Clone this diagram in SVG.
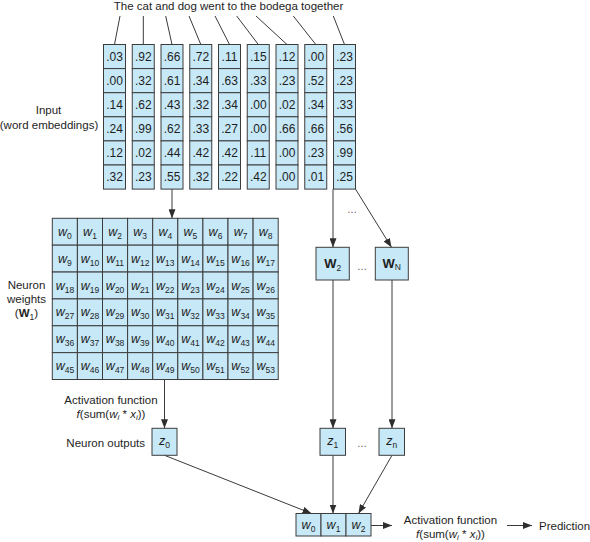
<svg xmlns="http://www.w3.org/2000/svg" width="590" height="542" viewBox="0 0 590 542">
<defs>
<style>
text{font-family:"Liberation Sans",Arial,sans-serif;fill:#1e1e1e;}
.lbl{font-size:11.5px;}
.mid{text-anchor:middle;}
.c{fill:#c6e8f7;stroke:#3c3c3c;stroke-width:1;}
.n{font-size:12px;text-anchor:middle;}
.w{font-size:12.5px;font-style:italic;}
.s{font-size:8.5px;}
.si{font-size:8px;font-style:italic;}
.it{font-style:italic;}
.b{font-weight:bold;}
.dots{font-size:10px;fill:#555;text-anchor:middle;}
.ln{stroke:#3a3a3a;stroke-width:1;fill:none;}
.ar{stroke:#3a3a3a;stroke-width:1;fill:none;marker-end:url(#ah);}
</style>
<marker id="ah" markerUnits="userSpaceOnUse" markerWidth="9" markerHeight="7" refX="9" refY="3.5" orient="auto">
<path d="M0,0 L9,3.5 L0,7 z" fill="#2e2e2e"/>
</marker>
</defs>
<rect width="590" height="542" fill="#fff"/>

<g id="sentence">
<text class="lbl mid" x="228.5" y="9.5">The cat and dog went to the bodega together</text>
</g>

<g id="labels">
<text class="lbl mid" x="48.5" y="113.5">Input</text>
<text class="lbl mid" x="49" y="128.5">(word embeddings)</text>
<text class="lbl mid" x="26.5" y="289">Neuron</text>
<text class="lbl mid" x="26.5" y="303">weights</text>
<text class="lbl mid" x="26.5" y="317">(<tspan class="b">W</tspan><tspan class="s" dy="2.5">1</tspan><tspan dy="-2.5">)</tspan></text>
<text class="lbl mid" x="111" y="404">Activation function</text>
<text class="lbl mid" x="111" y="417.5"><tspan class="it">f</tspan>(sum(<tspan class="it">w</tspan><tspan class="si" dy="2.5">i</tspan><tspan dy="-2.5"> * </tspan><tspan class="it">x</tspan><tspan class="si" dy="2.5">i</tspan><tspan dy="-2.5">))</tspan></text>
<text class="lbl" x="145" y="446.5" text-anchor="end">Neuron outputs</text>
<text class="lbl mid" x="450.5" y="524">Activation function</text>
<text class="lbl mid" x="450.5" y="537.5"><tspan class="it">f</tspan>(sum(<tspan class="it">w</tspan><tspan class="si" dy="2.5">i</tspan><tspan dy="-2.5"> * </tspan><tspan class="it">x</tspan><tspan class="si" dy="2.5">i</tspan><tspan dy="-2.5">))</tspan></text>
<text class="lbl" x="539" y="529.5">Prediction</text>
<text class="dots" x="352" y="213">…</text>
<text class="dots" x="362" y="270">…</text>
<text class="dots" x="362" y="447">…</text>
</g>

<g id="connectors">
<line class="ln" x1="120" y1="16" x2="114.5" y2="44.5"/>
<line class="ln" x1="143.3" y1="16" x2="143.3" y2="44.5"/>
<line class="ln" x1="165.7" y1="16" x2="172" y2="44.5"/>
<line class="ln" x1="189" y1="16" x2="200.8" y2="44.5"/>
<line class="ln" x1="215" y1="16" x2="229.5" y2="44.5"/>
<line class="ln" x1="236.7" y1="16" x2="258.3" y2="44.5"/>
<line class="ln" x1="256" y1="16" x2="287" y2="44.5"/>
<line class="ln" x1="293.3" y1="16" x2="315.8" y2="44.5"/>
<line class="ln" x1="333.3" y1="16" x2="344.5" y2="44.5"/>
<line class="ar" x1="172" y1="189.1" x2="172" y2="218.3"/>
<line class="ar" x1="333" y1="189.1" x2="333" y2="247.3"/>
<line class="ar" x1="355.5" y1="189.1" x2="391.5" y2="247.3"/>
<line class="ar" x1="333" y1="280" x2="333" y2="428.3"/>
<line class="ar" x1="392" y1="280" x2="392" y2="428.3"/>
<line class="ar" x1="164.5" y1="379.5" x2="164.5" y2="428.3"/>
<line class="ar" x1="164.5" y1="455.3" x2="311.5" y2="513.5"/>
<line class="ar" x1="333" y1="455.3" x2="333" y2="513.5"/>
<line class="ar" x1="392" y1="455.3" x2="358.5" y2="513.5"/>
<line class="ar" x1="371" y1="525.5" x2="392" y2="525.5"/>
<line class="ar" x1="507" y1="525.5" x2="532" y2="525.5"/>
</g>

<g id="emb0" transform="translate(103.5,0)">
<rect class="c" x="0" y="44.5" width="22" height="24.1"/><rect class="c" x="0" y="68.6" width="22" height="24.1"/><rect class="c" x="0" y="92.7" width="22" height="24.1"/><rect class="c" x="0" y="116.8" width="22" height="24.1"/><rect class="c" x="0" y="140.9" width="22" height="24.1"/><rect class="c" x="0" y="165" width="22" height="24.1"/>
<text class="n" x="11" y="60.7">.03</text><text class="n" x="11" y="84.8">.00</text><text class="n" x="11" y="108.9">.14</text><text class="n" x="11" y="133">.24</text><text class="n" x="11" y="157.1">.12</text><text class="n" x="11" y="181.2">.32</text>
</g>
<g id="emb1" transform="translate(132.25,0)">
<rect class="c" x="0" y="44.5" width="22" height="24.1"/><rect class="c" x="0" y="68.6" width="22" height="24.1"/><rect class="c" x="0" y="92.7" width="22" height="24.1"/><rect class="c" x="0" y="116.8" width="22" height="24.1"/><rect class="c" x="0" y="140.9" width="22" height="24.1"/><rect class="c" x="0" y="165" width="22" height="24.1"/>
<text class="n" x="11" y="60.7">.92</text><text class="n" x="11" y="84.8">.32</text><text class="n" x="11" y="108.9">.62</text><text class="n" x="11" y="133">.99</text><text class="n" x="11" y="157.1">.02</text><text class="n" x="11" y="181.2">.23</text>
</g>
<g id="emb2" transform="translate(161,0)">
<rect class="c" x="0" y="44.5" width="22" height="24.1"/><rect class="c" x="0" y="68.6" width="22" height="24.1"/><rect class="c" x="0" y="92.7" width="22" height="24.1"/><rect class="c" x="0" y="116.8" width="22" height="24.1"/><rect class="c" x="0" y="140.9" width="22" height="24.1"/><rect class="c" x="0" y="165" width="22" height="24.1"/>
<text class="n" x="11" y="60.7">.66</text><text class="n" x="11" y="84.8">.61</text><text class="n" x="11" y="108.9">.43</text><text class="n" x="11" y="133">.62</text><text class="n" x="11" y="157.1">.44</text><text class="n" x="11" y="181.2">.55</text>
</g>
<g id="emb3" transform="translate(189.75,0)">
<rect class="c" x="0" y="44.5" width="22" height="24.1"/><rect class="c" x="0" y="68.6" width="22" height="24.1"/><rect class="c" x="0" y="92.7" width="22" height="24.1"/><rect class="c" x="0" y="116.8" width="22" height="24.1"/><rect class="c" x="0" y="140.9" width="22" height="24.1"/><rect class="c" x="0" y="165" width="22" height="24.1"/>
<text class="n" x="11" y="60.7">.72</text><text class="n" x="11" y="84.8">.34</text><text class="n" x="11" y="108.9">.32</text><text class="n" x="11" y="133">.33</text><text class="n" x="11" y="157.1">.42</text><text class="n" x="11" y="181.2">.32</text>
</g>
<g id="emb4" transform="translate(218.5,0)">
<rect class="c" x="0" y="44.5" width="22" height="24.1"/><rect class="c" x="0" y="68.6" width="22" height="24.1"/><rect class="c" x="0" y="92.7" width="22" height="24.1"/><rect class="c" x="0" y="116.8" width="22" height="24.1"/><rect class="c" x="0" y="140.9" width="22" height="24.1"/><rect class="c" x="0" y="165" width="22" height="24.1"/>
<text class="n" x="11" y="60.7">.11</text><text class="n" x="11" y="84.8">.63</text><text class="n" x="11" y="108.9">.34</text><text class="n" x="11" y="133">.27</text><text class="n" x="11" y="157.1">.42</text><text class="n" x="11" y="181.2">.22</text>
</g>
<g id="emb5" transform="translate(247.25,0)">
<rect class="c" x="0" y="44.5" width="22" height="24.1"/><rect class="c" x="0" y="68.6" width="22" height="24.1"/><rect class="c" x="0" y="92.7" width="22" height="24.1"/><rect class="c" x="0" y="116.8" width="22" height="24.1"/><rect class="c" x="0" y="140.9" width="22" height="24.1"/><rect class="c" x="0" y="165" width="22" height="24.1"/>
<text class="n" x="11" y="60.7">.15</text><text class="n" x="11" y="84.8">.33</text><text class="n" x="11" y="108.9">.00</text><text class="n" x="11" y="133">.00</text><text class="n" x="11" y="157.1">.11</text><text class="n" x="11" y="181.2">.42</text>
</g>
<g id="emb6" transform="translate(276,0)">
<rect class="c" x="0" y="44.5" width="22" height="24.1"/><rect class="c" x="0" y="68.6" width="22" height="24.1"/><rect class="c" x="0" y="92.7" width="22" height="24.1"/><rect class="c" x="0" y="116.8" width="22" height="24.1"/><rect class="c" x="0" y="140.9" width="22" height="24.1"/><rect class="c" x="0" y="165" width="22" height="24.1"/>
<text class="n" x="11" y="60.7">.12</text><text class="n" x="11" y="84.8">.23</text><text class="n" x="11" y="108.9">.02</text><text class="n" x="11" y="133">.66</text><text class="n" x="11" y="157.1">.00</text><text class="n" x="11" y="181.2">.00</text>
</g>
<g id="emb7" transform="translate(304.75,0)">
<rect class="c" x="0" y="44.5" width="22" height="24.1"/><rect class="c" x="0" y="68.6" width="22" height="24.1"/><rect class="c" x="0" y="92.7" width="22" height="24.1"/><rect class="c" x="0" y="116.8" width="22" height="24.1"/><rect class="c" x="0" y="140.9" width="22" height="24.1"/><rect class="c" x="0" y="165" width="22" height="24.1"/>
<text class="n" x="11" y="60.7">.00</text><text class="n" x="11" y="84.8">.52</text><text class="n" x="11" y="108.9">.34</text><text class="n" x="11" y="133">.66</text><text class="n" x="11" y="157.1">.23</text><text class="n" x="11" y="181.2">.01</text>
</g>
<g id="emb8" transform="translate(333.5,0)">
<rect class="c" x="0" y="44.5" width="22" height="24.1"/><rect class="c" x="0" y="68.6" width="22" height="24.1"/><rect class="c" x="0" y="92.7" width="22" height="24.1"/><rect class="c" x="0" y="116.8" width="22" height="24.1"/><rect class="c" x="0" y="140.9" width="22" height="24.1"/><rect class="c" x="0" y="165" width="22" height="24.1"/>
<text class="n" x="11" y="60.7">.23</text><text class="n" x="11" y="84.8">.23</text><text class="n" x="11" y="108.9">.33</text><text class="n" x="11" y="133">.56</text><text class="n" x="11" y="157.1">.99</text><text class="n" x="11" y="181.2">.25</text>
</g>

<g id="weights-W1" text-anchor="middle">
<g id="wrow0" transform="translate(0,218.3)">
<rect class="c" x="52.3" y="0" width="25.1" height="26.87"/><rect class="c" x="77.4" y="0" width="25.1" height="26.87"/><rect class="c" x="102.5" y="0" width="25.1" height="26.87"/><rect class="c" x="127.6" y="0" width="25.1" height="26.87"/><rect class="c" x="152.7" y="0" width="25.1" height="26.87"/><rect class="c" x="177.8" y="0" width="25.1" height="26.87"/><rect class="c" x="202.9" y="0" width="25.1" height="26.87"/><rect class="c" x="228" y="0" width="25.1" height="26.87"/><rect class="c" x="253.1" y="0" width="25.1" height="26.87"/>
<text x="64.9" y="17.5"><tspan class="w">w</tspan><tspan class="s" dy="3">0</tspan></text>
<text x="90" y="17.5"><tspan class="w">w</tspan><tspan class="s" dy="3">1</tspan></text>
<text x="115.1" y="17.5"><tspan class="w">w</tspan><tspan class="s" dy="3">2</tspan></text>
<text x="140.2" y="17.5"><tspan class="w">w</tspan><tspan class="s" dy="3">3</tspan></text>
<text x="165.3" y="17.5"><tspan class="w">w</tspan><tspan class="s" dy="3">4</tspan></text>
<text x="190.4" y="17.5"><tspan class="w">w</tspan><tspan class="s" dy="3">5</tspan></text>
<text x="215.5" y="17.5"><tspan class="w">w</tspan><tspan class="s" dy="3">6</tspan></text>
<text x="240.6" y="17.5"><tspan class="w">w</tspan><tspan class="s" dy="3">7</tspan></text>
<text x="265.7" y="17.5"><tspan class="w">w</tspan><tspan class="s" dy="3">8</tspan></text>
</g>
<g id="wrow1" transform="translate(0,245.17)">
<rect class="c" x="52.3" y="0" width="25.1" height="26.87"/><rect class="c" x="77.4" y="0" width="25.1" height="26.87"/><rect class="c" x="102.5" y="0" width="25.1" height="26.87"/><rect class="c" x="127.6" y="0" width="25.1" height="26.87"/><rect class="c" x="152.7" y="0" width="25.1" height="26.87"/><rect class="c" x="177.8" y="0" width="25.1" height="26.87"/><rect class="c" x="202.9" y="0" width="25.1" height="26.87"/><rect class="c" x="228" y="0" width="25.1" height="26.87"/><rect class="c" x="253.1" y="0" width="25.1" height="26.87"/>
<text x="64.9" y="17.5"><tspan class="w">w</tspan><tspan class="s" dy="3">9</tspan></text>
<text x="90" y="17.5"><tspan class="w">w</tspan><tspan class="s" dy="3">10</tspan></text>
<text x="115.1" y="17.5"><tspan class="w">w</tspan><tspan class="s" dy="3">11</tspan></text>
<text x="140.2" y="17.5"><tspan class="w">w</tspan><tspan class="s" dy="3">12</tspan></text>
<text x="165.3" y="17.5"><tspan class="w">w</tspan><tspan class="s" dy="3">13</tspan></text>
<text x="190.4" y="17.5"><tspan class="w">w</tspan><tspan class="s" dy="3">14</tspan></text>
<text x="215.5" y="17.5"><tspan class="w">w</tspan><tspan class="s" dy="3">15</tspan></text>
<text x="240.6" y="17.5"><tspan class="w">w</tspan><tspan class="s" dy="3">16</tspan></text>
<text x="265.7" y="17.5"><tspan class="w">w</tspan><tspan class="s" dy="3">17</tspan></text>
</g>
<g id="wrow2" transform="translate(0,272.04)">
<rect class="c" x="52.3" y="0" width="25.1" height="26.87"/><rect class="c" x="77.4" y="0" width="25.1" height="26.87"/><rect class="c" x="102.5" y="0" width="25.1" height="26.87"/><rect class="c" x="127.6" y="0" width="25.1" height="26.87"/><rect class="c" x="152.7" y="0" width="25.1" height="26.87"/><rect class="c" x="177.8" y="0" width="25.1" height="26.87"/><rect class="c" x="202.9" y="0" width="25.1" height="26.87"/><rect class="c" x="228" y="0" width="25.1" height="26.87"/><rect class="c" x="253.1" y="0" width="25.1" height="26.87"/>
<text x="64.9" y="17.5"><tspan class="w">w</tspan><tspan class="s" dy="3">18</tspan></text>
<text x="90" y="17.5"><tspan class="w">w</tspan><tspan class="s" dy="3">19</tspan></text>
<text x="115.1" y="17.5"><tspan class="w">w</tspan><tspan class="s" dy="3">20</tspan></text>
<text x="140.2" y="17.5"><tspan class="w">w</tspan><tspan class="s" dy="3">21</tspan></text>
<text x="165.3" y="17.5"><tspan class="w">w</tspan><tspan class="s" dy="3">22</tspan></text>
<text x="190.4" y="17.5"><tspan class="w">w</tspan><tspan class="s" dy="3">23</tspan></text>
<text x="215.5" y="17.5"><tspan class="w">w</tspan><tspan class="s" dy="3">24</tspan></text>
<text x="240.6" y="17.5"><tspan class="w">w</tspan><tspan class="s" dy="3">25</tspan></text>
<text x="265.7" y="17.5"><tspan class="w">w</tspan><tspan class="s" dy="3">26</tspan></text>
</g>
<g id="wrow3" transform="translate(0,298.91)">
<rect class="c" x="52.3" y="0" width="25.1" height="26.87"/><rect class="c" x="77.4" y="0" width="25.1" height="26.87"/><rect class="c" x="102.5" y="0" width="25.1" height="26.87"/><rect class="c" x="127.6" y="0" width="25.1" height="26.87"/><rect class="c" x="152.7" y="0" width="25.1" height="26.87"/><rect class="c" x="177.8" y="0" width="25.1" height="26.87"/><rect class="c" x="202.9" y="0" width="25.1" height="26.87"/><rect class="c" x="228" y="0" width="25.1" height="26.87"/><rect class="c" x="253.1" y="0" width="25.1" height="26.87"/>
<text x="64.9" y="17.5"><tspan class="w">w</tspan><tspan class="s" dy="3">27</tspan></text>
<text x="90" y="17.5"><tspan class="w">w</tspan><tspan class="s" dy="3">28</tspan></text>
<text x="115.1" y="17.5"><tspan class="w">w</tspan><tspan class="s" dy="3">29</tspan></text>
<text x="140.2" y="17.5"><tspan class="w">w</tspan><tspan class="s" dy="3">30</tspan></text>
<text x="165.3" y="17.5"><tspan class="w">w</tspan><tspan class="s" dy="3">31</tspan></text>
<text x="190.4" y="17.5"><tspan class="w">w</tspan><tspan class="s" dy="3">32</tspan></text>
<text x="215.5" y="17.5"><tspan class="w">w</tspan><tspan class="s" dy="3">33</tspan></text>
<text x="240.6" y="17.5"><tspan class="w">w</tspan><tspan class="s" dy="3">34</tspan></text>
<text x="265.7" y="17.5"><tspan class="w">w</tspan><tspan class="s" dy="3">35</tspan></text>
</g>
<g id="wrow4" transform="translate(0,325.78)">
<rect class="c" x="52.3" y="0" width="25.1" height="26.87"/><rect class="c" x="77.4" y="0" width="25.1" height="26.87"/><rect class="c" x="102.5" y="0" width="25.1" height="26.87"/><rect class="c" x="127.6" y="0" width="25.1" height="26.87"/><rect class="c" x="152.7" y="0" width="25.1" height="26.87"/><rect class="c" x="177.8" y="0" width="25.1" height="26.87"/><rect class="c" x="202.9" y="0" width="25.1" height="26.87"/><rect class="c" x="228" y="0" width="25.1" height="26.87"/><rect class="c" x="253.1" y="0" width="25.1" height="26.87"/>
<text x="64.9" y="17.5"><tspan class="w">w</tspan><tspan class="s" dy="3">36</tspan></text>
<text x="90" y="17.5"><tspan class="w">w</tspan><tspan class="s" dy="3">37</tspan></text>
<text x="115.1" y="17.5"><tspan class="w">w</tspan><tspan class="s" dy="3">38</tspan></text>
<text x="140.2" y="17.5"><tspan class="w">w</tspan><tspan class="s" dy="3">39</tspan></text>
<text x="165.3" y="17.5"><tspan class="w">w</tspan><tspan class="s" dy="3">40</tspan></text>
<text x="190.4" y="17.5"><tspan class="w">w</tspan><tspan class="s" dy="3">41</tspan></text>
<text x="215.5" y="17.5"><tspan class="w">w</tspan><tspan class="s" dy="3">42</tspan></text>
<text x="240.6" y="17.5"><tspan class="w">w</tspan><tspan class="s" dy="3">43</tspan></text>
<text x="265.7" y="17.5"><tspan class="w">w</tspan><tspan class="s" dy="3">44</tspan></text>
</g>
<g id="wrow5" transform="translate(0,352.65)">
<rect class="c" x="52.3" y="0" width="25.1" height="26.87"/><rect class="c" x="77.4" y="0" width="25.1" height="26.87"/><rect class="c" x="102.5" y="0" width="25.1" height="26.87"/><rect class="c" x="127.6" y="0" width="25.1" height="26.87"/><rect class="c" x="152.7" y="0" width="25.1" height="26.87"/><rect class="c" x="177.8" y="0" width="25.1" height="26.87"/><rect class="c" x="202.9" y="0" width="25.1" height="26.87"/><rect class="c" x="228" y="0" width="25.1" height="26.87"/><rect class="c" x="253.1" y="0" width="25.1" height="26.87"/>
<text x="64.9" y="17.5"><tspan class="w">w</tspan><tspan class="s" dy="3">45</tspan></text>
<text x="90" y="17.5"><tspan class="w">w</tspan><tspan class="s" dy="3">46</tspan></text>
<text x="115.1" y="17.5"><tspan class="w">w</tspan><tspan class="s" dy="3">47</tspan></text>
<text x="140.2" y="17.5"><tspan class="w">w</tspan><tspan class="s" dy="3">48</tspan></text>
<text x="165.3" y="17.5"><tspan class="w">w</tspan><tspan class="s" dy="3">49</tspan></text>
<text x="190.4" y="17.5"><tspan class="w">w</tspan><tspan class="s" dy="3">50</tspan></text>
<text x="215.5" y="17.5"><tspan class="w">w</tspan><tspan class="s" dy="3">51</tspan></text>
<text x="240.6" y="17.5"><tspan class="w">w</tspan><tspan class="s" dy="3">52</tspan></text>
<text x="265.7" y="17.5"><tspan class="w">w</tspan><tspan class="s" dy="3">53</tspan></text>
</g>
</g>

<g id="W2" text-anchor="middle">
<rect class="c" x="316" y="247.3" width="33.3" height="32.7"/>
<text x="332.7" y="268"><tspan class="b" font-size="13px">W</tspan><tspan class="s" dy="3">2</tspan></text>
</g>
<g id="WN" text-anchor="middle">
<rect class="c" x="375.3" y="247.3" width="33" height="32.7"/>
<text x="391.8" y="268"><tspan class="b" font-size="13px">W</tspan><tspan class="s" dy="2">N</tspan></text>
</g>

<g id="z0" text-anchor="middle">
<rect class="c" x="152" y="428.3" width="25" height="27"/>
<text x="164.5" y="444.5"><tspan class="w">z</tspan><tspan class="s" dy="3">0</tspan></text>
</g>
<g id="z1" text-anchor="middle">
<rect class="c" x="320" y="428.3" width="25.5" height="27"/>
<text x="332.7" y="444.5"><tspan class="w">z</tspan><tspan class="s" dy="3">1</tspan></text>
</g>
<g id="zn" text-anchor="middle">
<rect class="c" x="379" y="428.3" width="25.5" height="27"/>
<text x="391.7" y="444.5"><tspan class="w">z</tspan><tspan class="s" dy="3">n</tspan></text>
</g>

<g id="output-weights" text-anchor="middle">
<rect class="c" x="296" y="513.5" width="25" height="22.5"/>
<rect class="c" x="321" y="513.5" width="25" height="22.5"/>
<rect class="c" x="346" y="513.5" width="25" height="22.5"/>
<text x="308.5" y="528.5"><tspan class="w">w</tspan><tspan class="s" dy="3">0</tspan></text>
<text x="333.5" y="528.5"><tspan class="w">w</tspan><tspan class="s" dy="3">1</tspan></text>
<text x="358.5" y="528.5"><tspan class="w">w</tspan><tspan class="s" dy="3">2</tspan></text>
</g>
</svg>
